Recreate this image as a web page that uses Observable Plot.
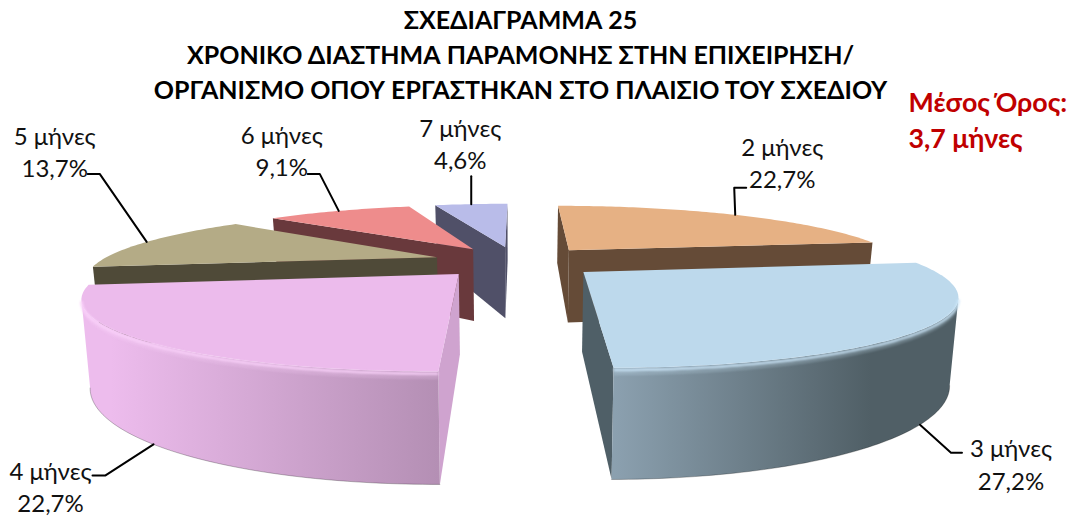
<!DOCTYPE html>
<html><head><meta charset="utf-8">
<script src="https://cdn.jsdelivr.net/npm/d3@7"></script>
<script src="https://cdn.jsdelivr.net/npm/@observablehq/plot@0.6"></script>
<style>html,body{margin:0;padding:0;background:#fff}svg{display:block}</style>
</head><body><div id="chart"></div>
<script>
// ---- data ----
const months = ["2 μήνες","3 μήνες","4 μήνες","5 μήνες","6 μήνες","7 μήνες"];
const shares = [22.7,27.2,22.7,13.7,9.1,4.6];
const shareLabels = ["22,7%","27,2%","22,7%","13,7%","9,1%","4,6%"];
const titleLines = ["ΣΧΕΔΙΑΓΡΑΜΜΑ 25","ΧΡΟΝΙΚΟ ΔΙΑΣΤΗΜΑ ΠΑΡΑΜΟΝΗΣ ΣΤΗΝ ΕΠΙΧΕΙΡΗΣΗ/","ΟΡΓΑΝΙΣΜΟ ΟΠΟΥ ΕΡΓΑΣΤΗΚΑΝ ΣΤΟ ΠΛΑΙΣΙΟ ΤΟΥ ΣΧΕΔΙΟΥ"];
const meanLines = ["Μέσος Όρος:","3,7 μήνες"];

// ---- styling and layout ----
const topColors  = ["#E6B184","#BDD9EC","#ECBBEC","#B4AB86","#EE8C8C","#B9BCE9"];
const wallColors = ["#654B37","#4F5F67","#CFA3CF","#4F4A38","#69393C","#505068"];
const arcPaints  = [null,"url(#arc3)","url(#arc4)",null,null,null];
const rimColors  = [null,"#CBE6F8",  "#FAD2FA",  null,null,null];
const drawOrder  = [5,4,3,0,2,1];
const font = "Lato, 'Noto Sans', sans-serif";
const W = 1076, H = 518;
// perspective camera of the 3-D pie
const cam = {x0:516, a:337, hz:35, dist:226, p:0.275, depth:76, explode:0.25, shrink:0.02};
// leader elbow and end, and label centre, given as offsets from each slice's rim anchor
const leaderOffsets = [[[-1,-27],[11,-27]],[[31,28],[42,28]],[[-48,31],[-61,31]],[[-47,-68],[-59,-68]],[[-19,-37],[-31,-37]],[[0,-28],[0,-28]]];
const labelOffsets  = [[47,-67],[91,25],[-103,27.5],[-92,-105],[-57,-75],[-11,-75]];
const labelGap = 32.5;

const rad = d => d * Math.PI / 180;
let acc = 0;
const slices = shares.map((s,i) => {
  const a0 = acc / 100 * 360; acc += s;
  const a1 = acc / 100 * 360;
  return {i, a0, a1, mid:(a0+a1)/2};
});
function project(sl, theta, r, f){
  const u = cam.explode*Math.sin(rad(sl.mid)) + r*Math.sin(rad(theta));
  const v = cam.explode*Math.cos(rad(sl.mid)) + r*Math.cos(rad(theta));
  const w = 1 + cam.p*v;
  return {x: cam.x0 + cam.a*u/w*(1-cam.shrink*f), y: cam.hz + cam.dist/w + cam.depth*f/w};
}
const arc = (sl,a,b,f) => {
  const pts = [], n = Math.max(2,Math.ceil(Math.abs(b-a)));
  for (let k=0;k<=n;k++) pts.push(project(sl,a+(b-a)*k/n,1,f));
  return pts;
};
const cross = (p,q,r) => (q.x-p.x)*(r.y-q.y)-(q.y-p.y)*(r.x-q.x);
// angle at which a slice's rim reaches furthest out sideways (its silhouette)
function extreme(sl){
  const right = Math.sin(rad(sl.mid)) > 0;
  let best = sl.a0, bx = right ? -Infinity : Infinity;
  for (let t = sl.a0; t <= sl.a1; t += 0.5){
    const x = project(sl,t,1,0).x;
    if (right ? x > bx : x < bx){ bx = x; best = t; }
  }
  return best;
}

const faces = [], rims = [], footLines = [];
let id = 0;
const addFace = (pts,paint) => { id++; pts.forEach(p => faces.push({x:p.x,y:p.y,id,paint})); };
for (const i of drawOrder){
  const sl = slices[i];
  const ap0 = project(sl,0,0,0), ap1 = project(sl,0,0,1);
  const rimA0 = project(sl,sl.a0,1,0), rimB0 = project(sl,sl.a0,1,1);
  const rimA1 = project(sl,sl.a1,1,0), rimB1 = project(sl,sl.a1,1,1);
  if (cross(ap0,rimA0,rimB0) < 0) addFace([ap0,rimA0,rimB0,ap1],wallColors[i]);
  if (cross(ap0,rimA1,rimB1) > 0) addFace([ap0,rimA1,rimB1,ap1],wallColors[i]);
  if (arcPaints[i]){
    const e = extreme(sl);
    const from = sl.mid < 180 ? e : sl.a0, to = sl.mid < 180 ? sl.a1 : e;
    addFace([...arc(sl,from,to,0),...arc(sl,from,to,1).reverse()],arcPaints[i]);
    id++; arc(sl,from,to,1).forEach(p => footLines.push({...p,id}));
    addFace([ap0,...arc(sl,sl.a0,sl.a1,0)],topColors[i]);
    id++; arc(sl,from,to,0.02).forEach(p => rims.push({...p,id,c:rimColors[i],w:3,o:0.9}));
    id++; arc(sl,from,to,0.055).forEach(p => rims.push({...p,id,c:rimColors[i],w:2.5,o:0.25}));
  } else {
    addFace([ap0,...arc(sl,sl.a0,sl.a1,0)],topColors[i]);
  }
}
const leaders = [], labels = [];
slices.forEach(sl => {
  const near = Math.cos(rad(sl.mid)) < 0;
  const anchor = project(sl,sl.mid,1,near?1:0);
  const [el,en] = leaderOffsets[sl.i];
  [[0,0],el,en].forEach(o => leaders.push({x:anchor.x+o[0],y:anchor.y+o[1],id:sl.i}));
  const lo = labelOffsets[sl.i];
  labels.push({x:anchor.x+lo[0],y:anchor.y+lo[1],text:months[sl.i]});
  labels.push({x:anchor.x+lo[0],y:anchor.y+lo[1]+labelGap,text:shareLabels[sl.i]});
});
const titleRows = titleLines.map((t,k)=>({t,x:520,y:[20,55,90][k]}));
const meanRows = meanLines.map((t,k)=>({t,x:908,y:[103,139][k]}));

const defs = () => {
  const s = d3.create("svg:defs");
  const grad = (gid,x1,x2,c1,c2) => {
    const g = s.append("linearGradient").attr("id",gid).attr("gradientUnits","userSpaceOnUse")
      .attr("x1",x1).attr("x2",x2).attr("y1",0).attr("y2",0);
    g.append("stop").attr("offset",0).attr("stop-color",c1);
    g.append("stop").attr("offset",1).attr("stop-color",c2);
  };
  grad("arc3",615,870,"#8BA0AF","#505F66");
  grad("arc4",110,438,"#EDBCED","#B48FB4");
  return s.node();
};

const chart = Plot.plot({
  width:W, height:H, margin:0,
  x:{domain:[0,W],range:[0,W],axis:null},
  y:{domain:[0,H],range:[0,H],axis:null},
  color:{type:"identity"},
  style:{background:"#fff"},
  marks:[
    defs,
    Plot.line(faces,{x:"x",y:"y",z:"id",fill:"paint",stroke:null,curve:"linear"}),
    Plot.line(footLines,{x:"x",y:"y",z:"id",stroke:"#000",strokeOpacity:0.25,strokeWidth:1,curve:"linear"}),
    Plot.line(rims,{x:"x",y:"y",z:"id",stroke:"c",strokeWidth:"w",strokeOpacity:"o",curve:"linear",strokeLinecap:"butt",imageFilter:"blur(0.8px)"}),
    Plot.line(leaders,{x:"x",y:"y",z:"id",stroke:"#000",strokeWidth:2,curve:"linear"}),
    Plot.text(labels,{x:"x",y:"y",text:"text",fontSize:24,fontFamily:font,fill:"#111"}),
    Plot.text(titleRows,{x:"x",y:"y",text:"t",fontSize:25,fontWeight:700,fontFamily:font,fill:"#000"}),
    Plot.text(meanRows,{x:"x",y:"y",text:"t",textAnchor:"start",fontSize:26.8,fontWeight:700,fontFamily:font,fill:"#C00000"})
  ]
});
document.getElementById("chart").append(chart);
</script></body></html>
